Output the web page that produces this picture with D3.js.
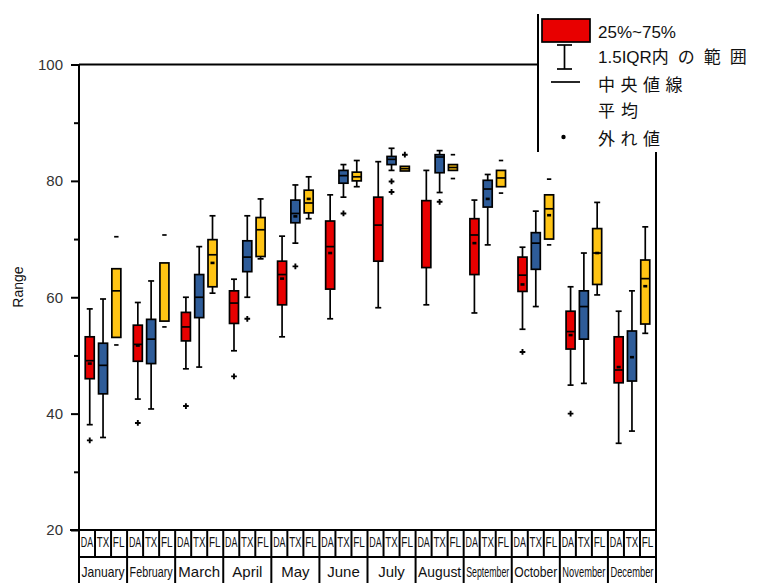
<!DOCTYPE html>
<html>
<head>
<meta charset="utf-8">
<script src="https://cdn.jsdelivr.net/npm/d3@7"></script>
<style>
  html, body { margin: 0; padding: 0; background: #fff; }
  svg { display: block; font-family: "Liberation Sans", Arial, sans-serif; }
</style>
</head>
<body>
<svg id="chart" width="761" height="583"></svg>
<script>
// ---------------- DATA ----------------
const months = ["January","February","March","April","May","June","July","August","September","October","November","December"];
const seriesNames = ["DA", "TX", "FL"];
const yTicks = [20, 40, 60, 80, 100];
const yMinorTicks = [30, 50, 70, 90];
const legendLatin = ["25%~75%", "1.5IQR", "", "", ""];
const legendCJK   = ["", "内の範囲", "中央値線", "平均", "外れ値"];

// Series 1 (red)
const redLow    = [38.1, 42.5, 47.7, 50.8, 53.2, 56.3, 58.2, 58.7, 57.3, 54.5, 44.9, 34.9];
const redQ1     = [46.0, 49.0, 52.5, 55.5, 58.7, 61.4, 66.2, 65.1, 63.9, 61.0, 51.1, 45.3];
const redMedian = [49.1, 51.9, 54.9, 59.0, 63.9, 68.7, 72.4, null, 70.7, 63.8, 54.1, 47.5];
const redQ3     = [53.2, 55.2, 57.4, 61.1, 66.2, 73.1, 77.2, 76.6, 73.5, 66.9, 57.6, 53.2];
const redHigh   = [58.0, 59.1, 60.0, 63.1, 70.5, 77.6, 83.3, 81.8, 76.7, 68.6, 61.8, 57.6];
const redMean   = [48.6, 51.7, null, null, 63.2, 67.6, null, null, 69.3, 62.2, 53.5, 48.0];
const redOutliers = [[35.4], [38.4], [41.3], [46.4], [], [], [], [], [], [50.6], [40.0], []];
const redMinMax = [[], [], [], [], [], [], [], [], [], [], [], []];

// Series 2 (blue)
const blueLow    = [35.9, 40.8, 48.0, 60.0, 69.3, 77.2, 81.8, 78.0, 69.0, 58.4, 45.2, 37.0];
const blueQ1     = [43.4, 48.6, 56.5, 64.4, 72.8, 79.6, 82.8, 81.4, 75.5, 64.8, 52.8, 45.6];
const blueMedian = [48.3, 52.8, 60.0, 66.9, 74.4, 80.9, 83.7, 84.1, 78.6, 69.3, 58.4, null];
const blueQ3     = [52.1, 56.2, 63.9, 69.7, 76.7, 81.8, 84.2, 84.5, 80.1, 71.1, 61.1, 54.2];
const blueHigh   = [59.7, 62.8, 68.7, 74.0, 79.3, 82.8, 85.6, 85.2, 81.1, 74.8, 67.6, 61.1];
const blueMean   = [null, null, null, null, 73.9, null, null, null, 76.9, null, null, 49.7];
const blueOutliers = [[], [], [], [56.3], [65.3], [74.4], [79.9, 78.1], [76.4], [], [], [], []];
const blueMinMax = [[], [], [], [], [], [], [], [], [], [], [], []];

// Series 3 (yellow)
const yellowLow    = [null, null, 60.7, 66.6, 73.5, 79.0, null, null, null, null, 60.4, 53.8];
const yellowQ1     = [53.1, 55.9, 61.8, 67.0, 74.5, 80.0, 81.7, 81.8, 79.0, 70.0, 62.2, 55.4];
const yellowMedian = [61.1, null, 67.3, 71.6, 76.2, 80.7, 82.1, 82.3, 80.5, 75.2, 67.6, 63.2];
const yellowQ3     = [64.9, 65.9, 69.9, 73.7, 78.4, 81.5, 82.5, 82.8, 81.8, 77.6, 71.8, 66.4];
const yellowHigh   = [null, null, 74.0, 76.9, 80.7, 83.5, null, null, null, null, 76.3, 72.1];
const yellowMean   = [null, null, 65.9, null, 76.9, null, null, null, null, 74.1, 67.6, 61.9];
const yellowOutliers = [[], [], [], [], [], [], [84.5], [], [], [], [], []];
const yellowMinMax = [[70.4, 51.8], [70.7, 54.9], [], [], [], [], [], [84.5, 80.4], [83.5, 77.9], [80.3, 69.0], [], []];

const seriesColors = ["#E80000", "#2E5C99", "#FFC414"];

// ---------------- BUILD ----------------
const series = [
  {low: redLow, q1: redQ1, med: redMedian, q3: redQ3, high: redHigh, mean: redMean, out: redOutliers, mm: redMinMax},
  {low: blueLow, q1: blueQ1, med: blueMedian, q3: blueQ3, high: blueHigh, mean: blueMean, out: blueOutliers, mm: blueMinMax},
  {low: yellowLow, q1: yellowQ1, med: yellowMedian, q3: yellowQ3, high: yellowHigh, mean: yellowMean, out: yellowOutliers, mm: yellowMinMax}
];
const boxes = [];
series.forEach((s, si) => {
  months.forEach((m, mi) => {
    boxes.push({month: m, s: si, name: seriesNames[si], low: s.low[mi], q1: s.q1[mi], med: s.med[mi], q3: s.q3[mi],
      high: s.high[mi], mean: s.mean[mi], out: s.out[mi], mm: s.mm[mi]});
  });
});

const svg = d3.select("#chart");
const pLeft = 79, pRight = 656, pTop = 64.5, pBottom = 530;
const AX = 2;   // axis/frame stroke
const BX = 1.7; // box stroke

const y = d3.scaleLinear().domain([20, 100]).range([pBottom, pTop]);
const x = d3.scaleBand().domain(months).range([pLeft, pRight]);
const sub = d3.scalePoint().domain(seriesNames).range([-13.3, 13.3]);
const subCell = d3.scaleBand().domain(seriesNames).range([0, x.bandwidth()]);
const boxW = 9;
const cx = d => x(d.month) + x.bandwidth() / 2 + sub(d.name);

// fit a text element into a width by horizontal scaling
function fitText(sel, px, py, maxW, sy) {
  const node = sel.node();
  const w = node.getComputedTextLength();
  const sx = Math.min(1, maxW / w);
  sel.attr("transform", `translate(${px},${py}) scale(${sx},${sy || 1})`);
}

// frame
svg.append("line").attr("x1", pLeft).attr("x2", pRight).attr("y1", pTop).attr("y2", pTop)
  .attr("stroke", "#000").attr("stroke-width", AX);
svg.append("line").attr("x1", pRight).attr("x2", pRight).attr("y1", pTop).attr("y2", 583)
  .attr("stroke", "#000").attr("stroke-width", AX);

// y axis
const yAxis = svg.append("g").attr("transform", `translate(${pLeft},0)`)
  .call(d3.axisLeft(y).tickValues(yTicks).tickSize(8).tickPadding(8).tickFormat(d3.format("d")));
yAxis.select(".domain").remove();
yAxis.selectAll(".tick line").attr("stroke", "#000").attr("stroke-width", AX);
yAxis.selectAll(".tick text").attr("font-size", 15).attr("fill", "#333")
  .attr("font-family", "'Liberation Sans', Arial, sans-serif");
const yMinor = svg.append("g").attr("transform", `translate(${pLeft},0)`)
  .call(d3.axisLeft(y).tickValues(yMinorTicks).tickSize(5).tickFormat(""));
yMinor.select(".domain").remove();
yMinor.selectAll(".tick line").attr("stroke", "#000").attr("stroke-width", AX);
svg.append("line").attr("x1", pLeft).attr("x2", pLeft).attr("y1", pTop).attr("y2", 583)
  .attr("stroke", "#000").attr("stroke-width", AX);

svg.append("text").attr("transform", `translate(23,287) rotate(-90)`)
  .attr("text-anchor", "middle").attr("font-size", 14).attr("fill", "#111").text("Range");

// x table
const rowMid = 557;
svg.append("line").attr("x1", pLeft).attr("x2", pRight).attr("y1", rowMid).attr("y2", rowMid)
  .attr("stroke", "#000").attr("stroke-width", AX);
months.forEach((m, mi) => {
  const x0 = x(m);
  seriesNames.forEach((sn, si) => {
    const cx0 = x0 + subCell(sn);
    if (!(mi === 0 && si === 0)) {
      svg.append("line").attr("x1", cx0).attr("x2", cx0).attr("y1", pBottom).attr("y2", rowMid)
        .attr("stroke", "#000").attr("stroke-width", AX);
    }
    const t = svg.append("text").attr("x", 0).attr("y", 0)
      .attr("font-size", 10).attr("fill", "#111").text(sn);
    fitText(t, cx0 + 1.8, pBottom + 17, subCell.bandwidth() - 3.6, 1.45);
  });
  if (mi > 0) {
    svg.append("line").attr("x1", x0).attr("x2", x0).attr("y1", rowMid).attr("y2", 583)
      .attr("stroke", "#000").attr("stroke-width", AX);
  }
  const mt = svg.append("text").attr("x", 0).attr("y", 0)
    .attr("text-anchor", "middle").attr("font-size", 15).attr("fill", "#111").text(m);
  fitText(mt, x0 + x.bandwidth() / 2, 577, x.bandwidth() - 5, 1);
});
svg.append("line").attr("x1", 70).attr("x2", pRight).attr("y1", pBottom).attr("y2", pBottom)
  .attr("stroke", "#000").attr("stroke-width", AX);

// boxes
const g = svg.append("g");
boxes.forEach(d => {
  const c = cx(d);
  const bg = g.append("g");
  if (d.high != null) {
    bg.append("line").attr("x1", c).attr("x2", c).attr("y1", y(d.q3)).attr("y2", y(d.high))
      .attr("stroke", "#000").attr("stroke-width", BX);
    bg.append("line").attr("x1", c - 3).attr("x2", c + 3).attr("y1", y(d.high)).attr("y2", y(d.high))
      .attr("stroke", "#000").attr("stroke-width", BX);
  }
  if (d.low != null) {
    bg.append("line").attr("x1", c).attr("x2", c).attr("y1", y(d.q1)).attr("y2", y(d.low))
      .attr("stroke", "#000").attr("stroke-width", BX);
    bg.append("line").attr("x1", c - 3).attr("x2", c + 3).attr("y1", y(d.low)).attr("y2", y(d.low))
      .attr("stroke", "#000").attr("stroke-width", BX);
  }
  bg.append("rect").attr("x", c - boxW / 2).attr("y", y(d.q3)).attr("width", boxW)
    .attr("height", y(d.q1) - y(d.q3)).attr("fill", seriesColors[d.s])
    .attr("stroke", "#000").attr("stroke-width", BX);
  if (d.med != null) {
    bg.append("line").attr("x1", c - boxW / 2).attr("x2", c + boxW / 2).attr("y1", y(d.med)).attr("y2", y(d.med))
      .attr("stroke", "#000").attr("stroke-width", BX);
  }
  if (d.mean != null) {
    bg.append("rect").attr("x", c - 2).attr("y", y(d.mean) - 1.3).attr("width", 4).attr("height", 2.6)
      .attr("fill", "#000");
  }
  d.out.forEach(v => {
    bg.append("path").attr("d", d3.symbol(d3.symbolCross, 18)()).attr("transform", `translate(${c},${y(v)})`)
      .attr("fill", "#000");
  });
  d.mm.forEach(v => {
    bg.append("line").attr("x1", c - 2.2).attr("x2", c + 2.2).attr("y1", y(v)).attr("y2", y(v))
      .attr("stroke", "#000").attr("stroke-width", BX);
  });
});

// legend
const lg = svg.append("g");
lg.append("rect").attr("x", 538).attr("y", 14).attr("width", 230).attr("height", 138).attr("fill", "#fff");
lg.append("line").attr("x1", 538).attr("x2", 538).attr("y1", 14).attr("y2", 152)
  .attr("stroke", "#000").attr("stroke-width", AX);
lg.append("rect").attr("x", 542).attr("y", 19).attr("width", 48).attr("height", 23)
  .attr("fill", seriesColors[0]).attr("stroke", "#000").attr("stroke-width", BX);
lg.append("line").attr("x1", 564.5).attr("x2", 564.5).attr("y1", 45).attr("y2", 69).attr("stroke", "#000").attr("stroke-width", BX);
lg.append("line").attr("x1", 557).attr("x2", 572).attr("y1", 45).attr("y2", 45).attr("stroke", "#000").attr("stroke-width", BX);
lg.append("line").attr("x1", 557).attr("x2", 572).attr("y1", 69).attr("y2", 69).attr("stroke", "#000").attr("stroke-width", BX);
lg.append("line").attr("x1", 551).attr("x2", 580).attr("y1", 82).attr("y2", 82).attr("stroke", "#000").attr("stroke-width", BX);
lg.append("circle").attr("cx", 563.5).attr("cy", 137).attr("r", 2.2).attr("fill", "#000");
const ly = [38, 63, 91, 117, 145];
const cjkSpacing = [0, 9, 5.5, 6, 5.5];
legendLatin.forEach((t, i) => {
  const tx = lg.append("text").attr("x", 598).attr("y", ly[i]).attr("font-size", 17).attr("fill", "#111")
    .attr("font-family", "'Liberation Sans', 'Noto Sans CJK JP', sans-serif");
  if (t) tx.append("tspan").text(t);
  if (legendCJK[i]) tx.append("tspan").attr("letter-spacing", cjkSpacing[i])
    .attr("font-family", "'Noto Sans CJK JP', sans-serif").text(legendCJK[i]);
});
</script>
</body>
</html>
